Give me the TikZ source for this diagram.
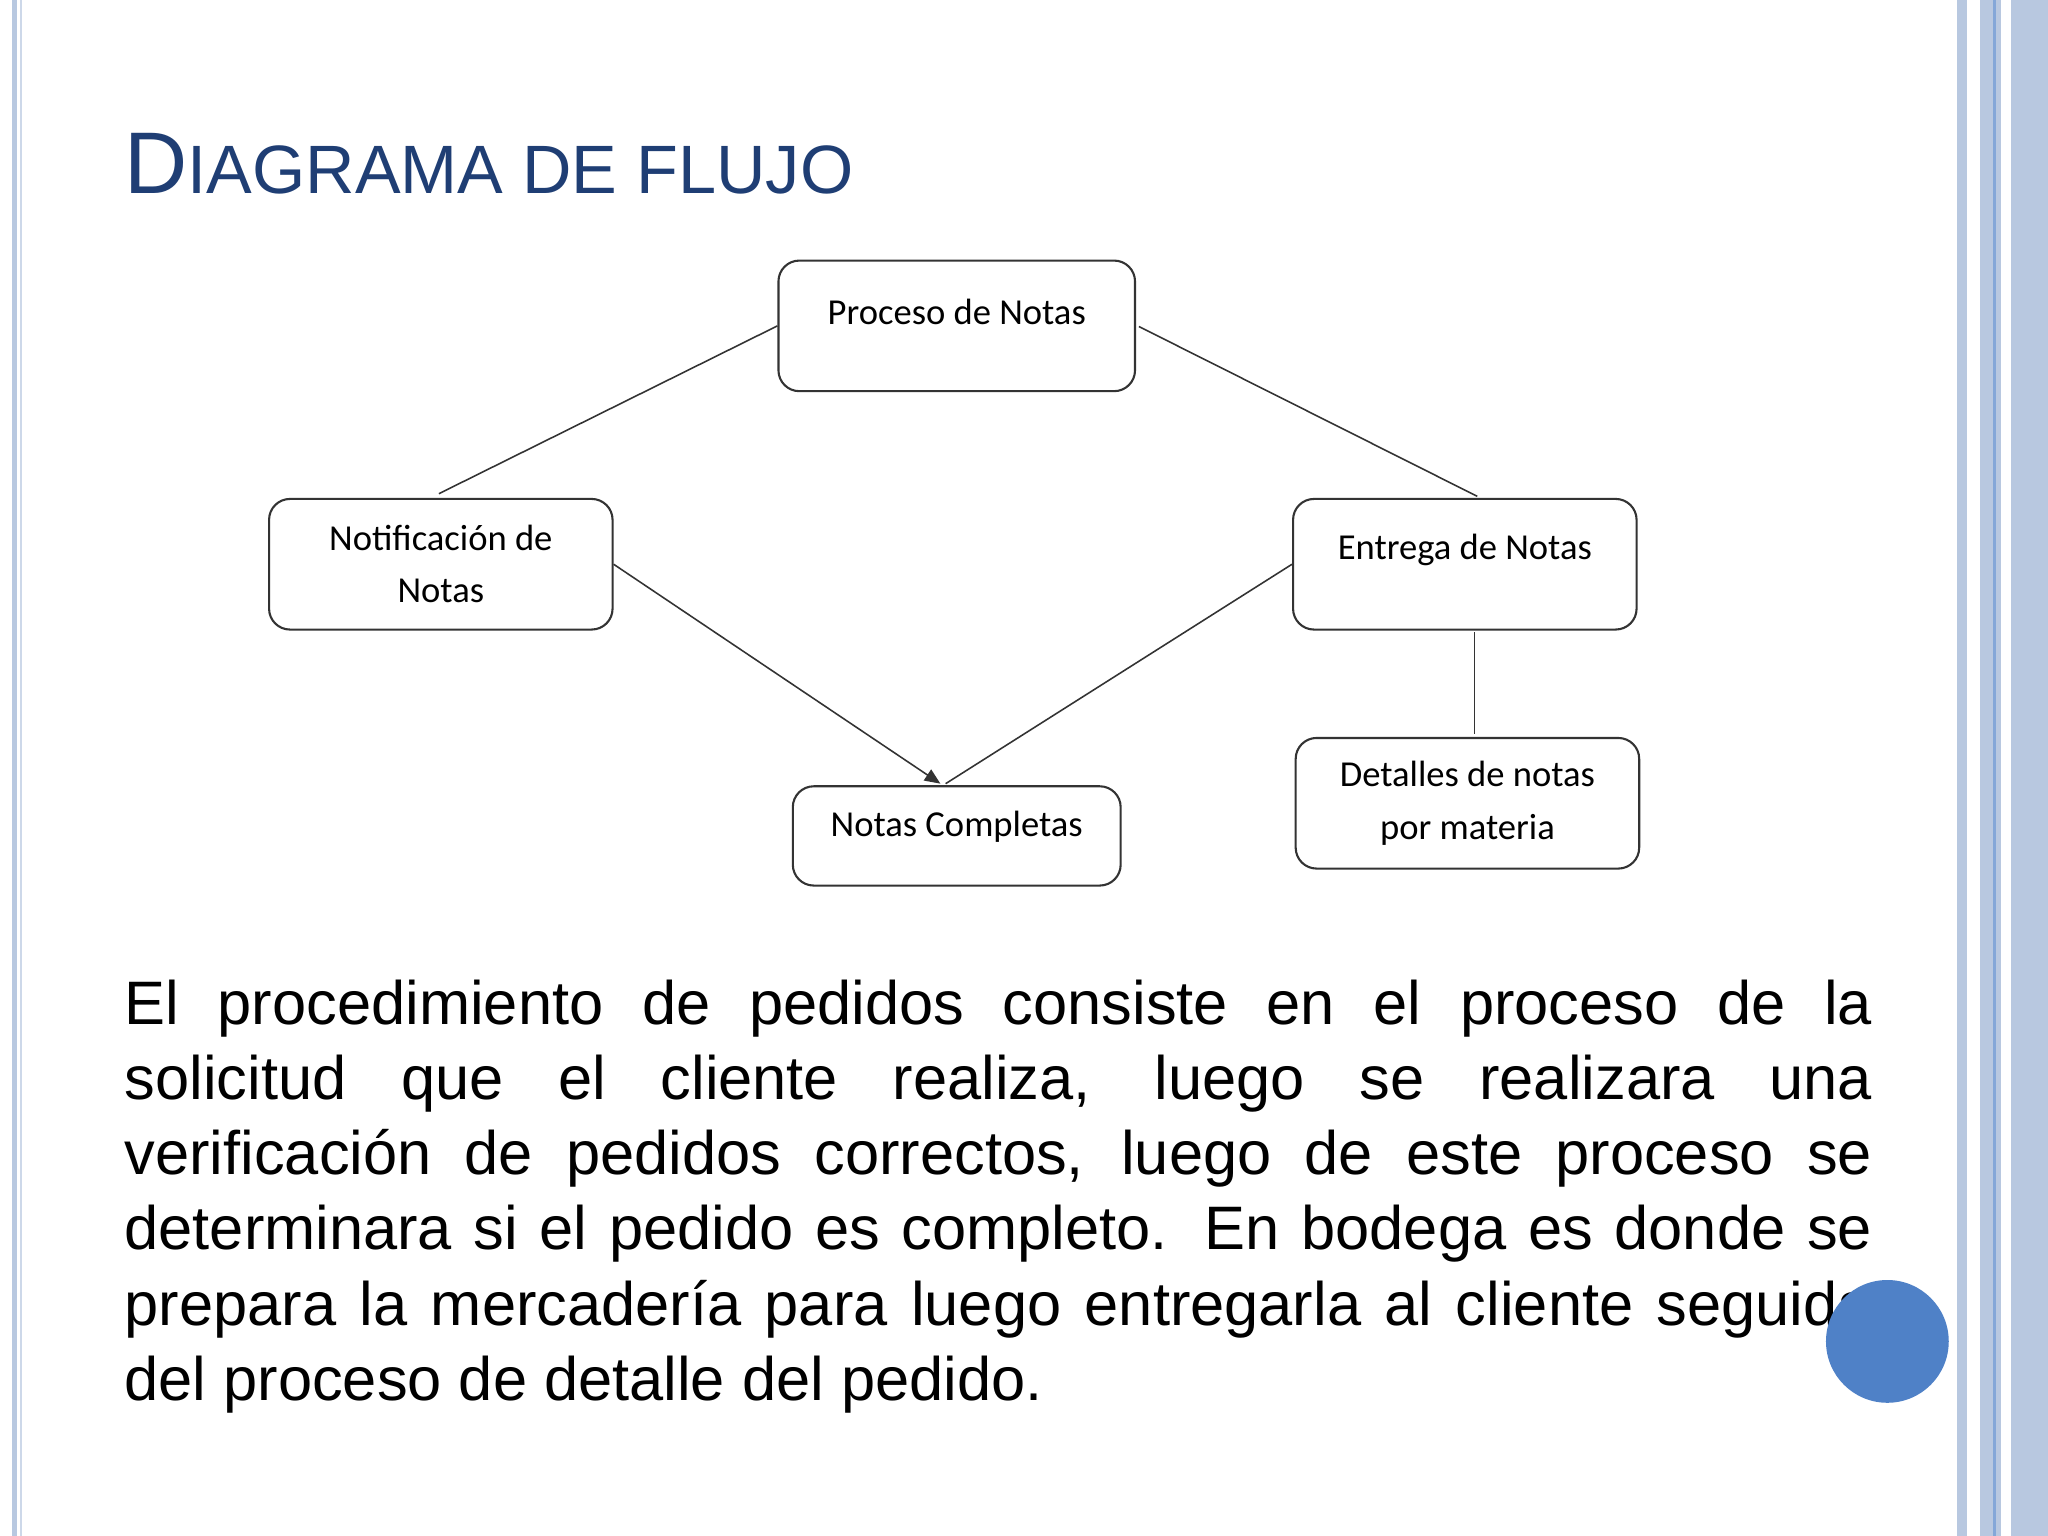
\documentclass[tikz,border=0pt]{standalone}
\usepackage{fontspec}
\setmainfont{Liberation Sans}
\newfontfamily\boxfont{Carlito}
\usetikzlibrary{arrows.meta}
\definecolor{titleblue}{HTML}{1F3E74}
\definecolor{barblue}{HTML}{B8C8E0}
\definecolor{circblue}{HTML}{4F81C7}
\tikzset{fbox/.style={draw=black!80,rounded corners=8pt,line width=0.8pt,inner sep=0pt},
 btext/.style={font=\boxfont\fontsize{14}{20}\selectfont,align=center,inner sep=0pt},
 conn/.style={draw=black!80,line width=0.6pt}}
\begin{document}
\begin{tikzpicture}[x=0.5pt,y=-0.5pt]
\useasboundingbox (0,0) rectangle (1568,1176);
\fill[white] (0,0) rectangle (1568,1176);
% borders
\fill[barblue] (9,0) rectangle (13,1176);
\fill[barblue!70] (15,0) rectangle (17,1176);
\fill[barblue] (1498,0) rectangle (1506,1176);
\fill[barblue] (1516,0) rectangle (1532,1176);
\draw[circblue!70,line width=0.8pt] (1527,0) -- (1527,1176);
\fill[barblue] (1540,0) rectangle (1568,1176);
% title
\node[anchor=base west,text=titleblue,inner sep=0pt] (title) at (95,148) {\fontsize{33.5}{38}\selectfont D\fontsize{26.2}{30}\selectfont IAGRAMA DE FLUJO};
% boxes
\node[fbox,minimum width=136.5pt,minimum height=50pt] (p) at (732.5,249.5) {};
\node[btext] (pt) at (732.5,239) {Proceso de Notas};
\node[fbox,minimum width=131.5pt,minimum height=50pt] (n) at (337.5,432) {};
\node[btext] (nt) at (337.5,432) {Notificación de\\Notas};
\node[fbox,minimum width=131.5pt,minimum height=50pt] (e) at (1121.5,432) {};
\node[btext] (et) at (1121.5,421) {Entrega de Notas};
\node[fbox,minimum width=125.5pt,minimum height=38pt] (c) at (732.5,640) {};
\node[btext] (ct) at (732.5,633) {Notas Completas};
\node[fbox,minimum width=131.5pt,minimum height=50pt] (d) at (1123.5,615) {};
\node[btext] (dt) at (1123.5,615) {Detalles de notas\\por materia};
% connectors
\draw[conn] (p.west) -- (336,378);
\draw[conn] (872,250) -- (1131,380);
\draw[conn,-{Triangle[length=6pt,width=5pt]}] (n.east) -- (720,600);
\draw[conn] (e.west) -- (724,600);
\draw[conn] (1129,484) -- (1129,562);
% paragraph
\node[anchor=north west,inner sep=0pt,text width=669pt,align=justify,font=\fontsize{23.5}{28.75}\selectfont] (para) at (95,750) {\hyphenpenalty=10000 El procedimiento de pedidos consiste en el proceso de la\linebreak solicitud que el cliente realiza, luego se realizara una\linebreak verificación de pedidos correctos, luego de este proceso se\linebreak determinara si el pedido es completo. En bodega es donde se\linebreak prepara la mercadería para luego entregarla al cliente seguida\linebreak del proceso de detalle del pedido.};
\fill[circblue] (1445,1027) circle (47);
\end{tikzpicture}
\end{document}
